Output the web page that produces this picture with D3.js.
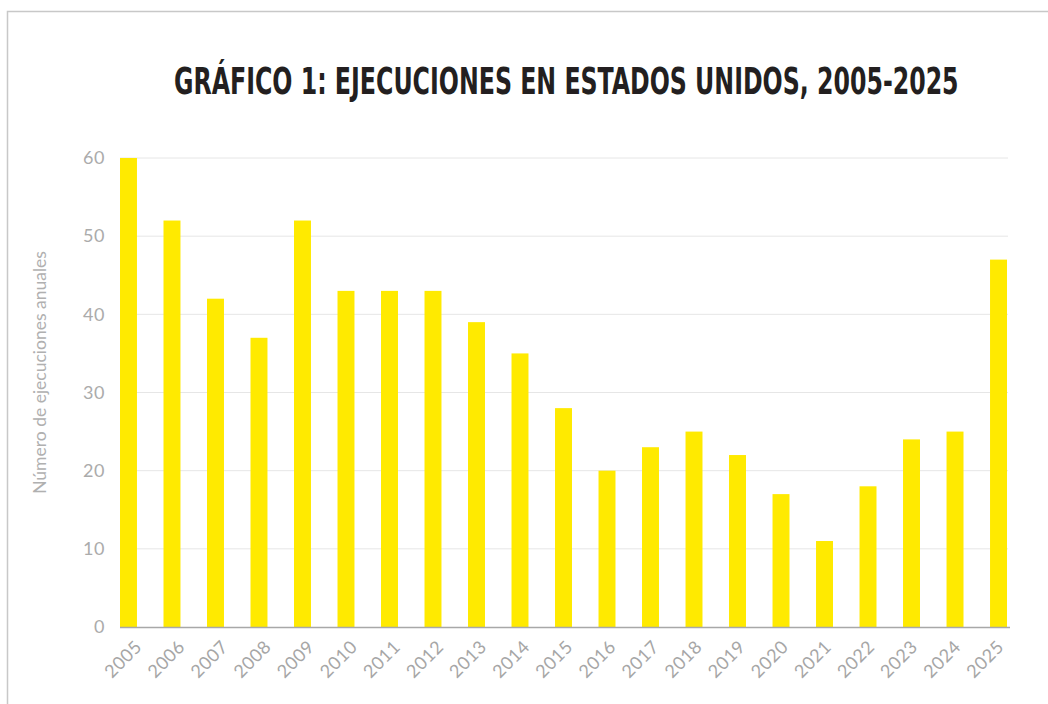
<!DOCTYPE html>
<html>
<head>
<meta charset="utf-8">
<script src="https://cdn.jsdelivr.net/npm/d3@7"></script>
<style>
  body { margin: 0; background: #fff; }
  svg { display: block; }
</style>
</head>
<body>
<div id="chart"></div>
<script>
const years = ['2005', '2006', '2007', '2008', '2009', '2010', '2011', '2012', '2013', '2014',
  '2015', '2016', '2017', '2018', '2019', '2020', '2021', '2022', '2023', '2024', '2025'];
const executions = [60, 52, 42, 37, 52, 43, 43, 43, 39, 35, 28, 20, 23, 25, 22, 17, 11, 18, 24, 25, 47];
const yTicks = [0, 10, 20, 30, 40, 50, 60];

const titleText = 'GRÁFICO 1: EJECUCIONES EN ESTADOS UNIDOS, 2005-2025';
const yTitle = 'Número de ejecuciones anuales';

const size = { width: 1048, height: 704 };
const plot = { left: 120, right: 1007, top: 158, bottom: 627 };

const svg = d3.select('#chart')
  .append('svg')
  .attr('width', size.width)
  .attr('height', size.height);

// outer frame (only top and left edges visible)
svg.append('rect')
  .attr('x', 7.5)
  .attr('y', 11.5)
  .attr('width', 1100)
  .attr('height', 800)
  .attr('fill', 'none')
  .attr('stroke', '#c8c8c8')
  .attr('stroke-width', 1.5);

// title: condensed font, squeezed to the reference width
const title = svg.append('text')
  .attr('font-family', '"DejaVu Sans Condensed", "Liberation Sans Narrow", sans-serif')
  .attr('font-weight', 700)
  .attr('font-size', 38)
  .attr('fill', '#231f20')
  .text(titleText);
const titleW = title.node().getComputedTextLength();
title.attr('transform', `translate(174,94) scale(${785 / titleW},1)`);

const x = d3.scaleBand()
  .domain(years)
  .range([plot.left, plot.right])
  .paddingInner(0.61)
  .paddingOuter(0);

// label anchors sit on a slightly tighter spacing than the bars
const xLabel = d3.scalePoint()
  .domain(years)
  .range([143, 1005]);

const y = d3.scaleLinear()
  .domain([0, 60])
  .range([plot.bottom, plot.top]);

// gridlines
svg.append('g')
  .selectAll('line')
  .data(yTicks.filter((d) => d > 0))
  .enter()
  .append('line')
  .attr('x1', plot.left)
  .attr('x2', 1008)
  .attr('y1', (d) => y(d))
  .attr('y2', (d) => y(d))
  .attr('stroke', '#e6e6e6')
  .attr('stroke-width', 1);

const tickFont = 'Lato, "Open Sans", sans-serif';

// y labels
const yAxis = svg.append('g')
  .attr('transform', `translate(105,0)`)
  .call(d3.axisLeft(y).tickValues(yTicks).tickSize(0).tickPadding(0));
yAxis.select('.domain').remove();
yAxis.selectAll('text')
  .attr('font-family', tickFont)
  .attr('font-weight', 400)
  .attr('font-size', 18)
  .attr('letter-spacing', 0.5)
  .attr('fill', '#ababab');

svg.append('text')
  .attr('transform', `translate(46,${(plot.top + plot.bottom) / 2 - 20}) rotate(-90)`)
  .attr('text-anchor', 'middle')
  .attr('font-family', tickFont)
  .attr('font-weight', 400)
  .attr('font-size', 17.5)
  .attr('fill', '#b0b0b0')
  .text(yTitle);

// bars
svg.append('g')
  .selectAll('rect')
  .data(executions)
  .enter()
  .append('rect')
  .attr('x', (d, i) => x(years[i]))
  .attr('y', (d) => y(d))
  .attr('width', x.bandwidth())
  .attr('height', (d) => y(0) - y(d))
  .attr('fill', '#ffea00');

// baseline
svg.append('line')
  .attr('x1', plot.left)
  .attr('x2', 1010)
  .attr('y1', y(0) + 0.5)
  .attr('y2', y(0) + 0.5)
  .attr('stroke', '#a8a8a8')
  .attr('stroke-width', 1.5);

// x labels
svg.append('g')
  .selectAll('text')
  .data(years)
  .enter()
  .append('text')
  .attr('transform', (d) => `translate(${xLabel(d)},${plot.bottom + 21}) rotate(-45)`)
  .attr('text-anchor', 'end')
  .attr('font-family', tickFont)
  .attr('font-weight', 400)
  .attr('font-size', 18)
  .attr('letter-spacing', 0.5)
  .attr('fill', '#a6a6a6')
  .text((d) => d);
</script>
</body>
</html>
